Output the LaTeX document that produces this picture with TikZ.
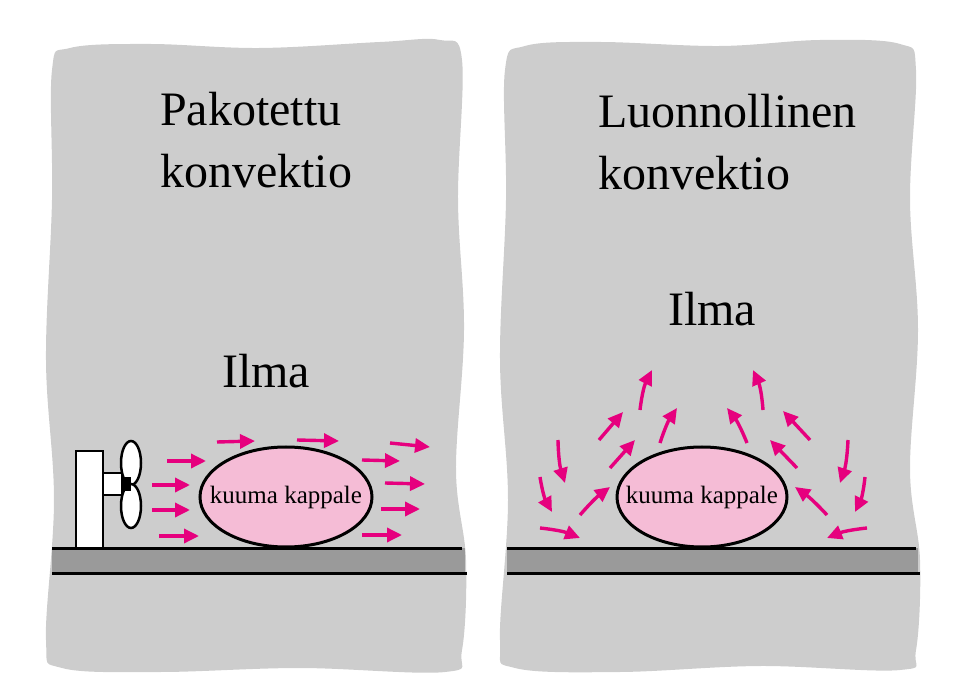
\documentclass[tikz,border=0pt]{standalone}
\usepackage{fontspec}
\setmainfont{Liberation Serif}
\usetikzlibrary{arrows.meta}
\definecolor{bg}{HTML}{CDCDCD}
\definecolor{floorc}{HTML}{9A9A9A}
\definecolor{mag}{HTML}{E6007E}
\definecolor{bodyc}{HTML}{F5BCD6}
\tikzset{
  flow/.style={draw=mag, line width=3.4pt, -{Triangle[length=15pt,width=14pt]}},
  title/.style={font=\fontsize{48}{62}\selectfont, anchor=base west, inner sep=0pt, align=left},
  air/.style={font=\fontsize{48}{50}\selectfont, anchor=base, inner sep=0pt},
  hot/.style={draw=black, line width=3pt, fill=bodyc},
  hottext/.style={font=\fontsize{25}{26}\selectfont, inner sep=0pt},
}
\begin{document}
\begin{tikzpicture}[x=1pt,y=-1pt]
\useasboundingbox (0,0) rectangle (956,692);
% panels
\fill[bg] plot[smooth cycle, tension=0.6] coordinates {(52,70) (70,48) (150,44) (260,48) (380,42) (440,40) (462,60) (458,200) (464,330) (456,470) (466,560) (462,650) (445,672) (300,668) (160,672) (62,668) (46,640) (54,500) (46,360) (52,200)};
\fill[bg] plot[smooth cycle, tension=0.6] coordinates {(505,70) (525,46) (600,42) (720,46) (820,40) (900,44) (916,70) (910,200) (918,330) (910,470) (920,560) (916,650) (900,670) (760,666) (620,672) (515,668) (500,640) (508,500) (500,360) (506,200)};
% floors
\fill[floorc] (52,548) rectangle (465,573);
\draw[line width=3pt] (52,548) -- (462,548) (52,573) -- (467,573);
\fill[floorc] (507,548) rectangle (918,573);
\draw[line width=3pt] (507,548) -- (916,548) (507,573) -- (920,573);
% texts
\node[title] (t1) at (160,188) {Pakotettu\\konvektio};
\node[title] (t2) at (598,190) {Luonnollinen\\konvektio};
\node[air] (a1) at (266,388) {Ilma};
\node[air] (a2) at (712,326) {Ilma};
% bodies
\draw[hot] (286,497) ellipse (86pt and 50pt);
\node[hottext] (b1) at (286,497) {kuuma kappale};
\draw[hot] (702,497) ellipse (85pt and 50pt);
\node[hottext] (b2) at (702,497) {kuuma kappale};
% fan
\draw[line width=2.5pt, fill=white] (76,548) rectangle (103,451);
\draw[line width=2.5pt, fill=white] (103,473) rectangle (122,495);
\draw[line width=2.5pt, fill=white] (131,463) ellipse (10pt and 22pt);
\draw[line width=2.5pt, fill=white] (131,506) ellipse (10pt and 22pt);
\fill (121,477) rectangle (131,491);
% forced arrows
\draw[flow] (217,442) -- (255,441);
\draw[flow] (297,440) -- (339,441);
\draw[flow] (390,443) -- (430,447);
\draw[flow] (167,461) -- (206,461);
\draw[flow] (362,460) -- (400,461);
\draw[flow] (152,485) -- (190,485);
\draw[flow] (385,483) -- (425,484);
\draw[flow] (152,510) -- (190,510);
\draw[flow] (381,509) -- (420,509);
\draw[flow] (159,536) -- (199,536);
\draw[flow] (362,535) -- (402,535);
% natural arrows
\draw[flow] (640,410) to[bend left=10] (652,370);
\draw[flow] (599,440) -- (623,412);
\draw[flow] (660,443) to[bend left=8] (677,408);
\draw[flow] (610,468) -- (635,440);
\draw[flow] (580,515) to[bend left=6] (610,487);
\draw[flow] (558,440) to[bend right=8] (565,483);
\draw[flow] (540,477) to[bend right=10] (552,512);
\draw[flow] (540,528) to[bend left=8] (580,538);
\draw[flow] (763,410) to[bend right=10] (753,370);
\draw[flow] (810,440) -- (783,411);
\draw[flow] (747,443) to[bend right=8] (727,408);
\draw[flow] (797,468) -- (770,440);
\draw[flow] (827,515) to[bend right=6] (795,487);
\draw[flow] (848,440) to[bend left=8] (840,483);
\draw[flow] (865,477) to[bend left=10] (855,512);
\draw[flow] (867,528) to[bend right=8] (827,538);
\end{tikzpicture}
\end{document}
